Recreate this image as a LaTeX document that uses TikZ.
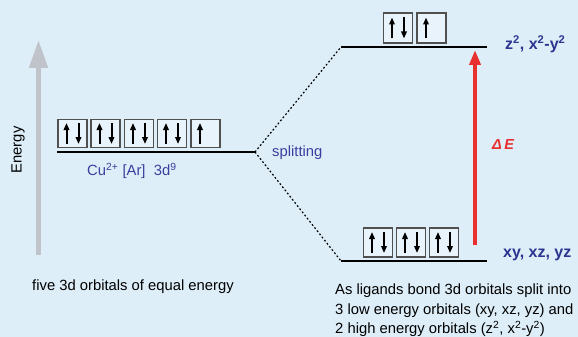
\documentclass[tikz,border=0pt]{standalone}
\usepackage{fontspec}
\setmainfont{Liberation Sans}
\usepackage{xcolor}
\usepackage{tikz}
\usetikzlibrary{arrows.meta,positioning}

\definecolor{bgblue}{RGB}{221,238,248}
\definecolor{boxfill}{RGB}{232,243,251}
\definecolor{boxline}{RGB}{80,80,80}
\definecolor{txtblue}{RGB}{58,63,160}
\definecolor{lblblue}{RGB}{43,53,144}
\definecolor{gapred}{RGB}{232,48,47}
\definecolor{axisgray}{RGB}{192,196,202}

\begin{document}
\begin{tikzpicture}[
    x=1pt, y=-1pt,
    orbital/.style={rectangle, draw=boxline, line width=1.2pt, fill=boxfill, minimum width=29pt, minimum height=28pt, inner sep=0pt},
    level/.style={line width=1.2pt},
    split/.style={dash pattern=on 1.8pt off 2.2pt, line width=1.2pt},
    spin/.style={-{Triangle[length=7pt,width=5.5pt]}, line width=2pt},
    energy/.style={-{Triangle[length=28pt,width=18pt]}, line width=5pt, draw=axisgray},
    gap/.style={-{Triangle[length=15pt,width=11pt]}, line width=4.7pt, draw=gapred},
    txt/.style={font={\fontsize{14.8}{19.5}\selectfont}, inner sep=0pt},
    lbl/.style={font={\fontsize{16}{18}\selectfont\bfseries}, text=lblblue, inner sep=0pt}
]
\useasboundingbox (0,0) rectangle (578,337);
\fill[bgblue] (0,0) rectangle (578,337);

% Energy axis
\coordinate (ebot) at (38.5,255);
\coordinate (etop) at (38.5,40);
\draw[energy] (ebot) -- (etop);
\node[txt, rotate=90] (energylbl) at (18,150) {Energy};

% Free ion: five d orbitals
\coordinate (freeL) at (57,152);
\coordinate (freeR) at (255,152);
\draw[level] (freeL) -- (freeR);
\foreach \i/\x in {1/72.5, 2/105.5, 3/139, 4/172, 5/205.5}
    \node[orbital] (l\i) at (\x,133.5) {};
\foreach \i in {1,...,4} {
    \draw[spin] ([xshift=-6pt,yshift=-10.5pt]l\i.center) -- ++(0pt,21pt);
    \draw[spin] ([xshift=6pt,yshift=10.5pt]l\i.center) -- ++(0pt,-21pt);
}
\draw[spin] ([xshift=-5.5pt,yshift=-10.5pt]l5.center) -- ++(0pt,21pt);
\node[txt, text=txtblue, anchor=west] (ion) at (87,171) {Cu\textsuperscript{2+} [Ar]\ \ 3d\textsuperscript{9}};

% Split levels
\coordinate (upL) at (341,47);
\coordinate (upR) at (487,47);
\coordinate (loL) at (341,261);
\coordinate (loR) at (487,261);
\draw[level] (upL) -- (upR);
\draw[level] (loL) -- (loR);
\draw[split] (freeR) -- (upL);
\draw[split] (freeR) -- (loL);
\node[txt, text=txtblue, anchor=west] (splitlbl) at (272,153) {splitting};

% e_g set
\foreach \i/\x in {1/398, 2/431.5}
    \node[orbital, minimum height=30pt] (u\i) at (\x,28) {};
\draw[spin] ([xshift=-6pt,yshift=-10.5pt]u1.center) -- ++(0pt,21pt);
\draw[spin] ([xshift=6pt,yshift=10.5pt]u1.center) -- ++(0pt,-21pt);
\draw[spin] ([xshift=-5.5pt,yshift=-10.5pt]u2.center) -- ++(0pt,21pt);
\node[lbl, anchor=west] (eglbl) at (505,44) {z\textsuperscript{2}, x\textsuperscript{2}-y\textsuperscript{2}};

% t_2g set
\foreach \i/\x in {1/378, 2/411, 3/444} {
    \node[orbital, minimum height=29pt] (d\i) at (\x,242.5) {};
    \draw[spin] ([xshift=-6pt,yshift=-10.5pt]d\i.center) -- ++(0pt,21pt);
    \draw[spin] ([xshift=6pt,yshift=10.5pt]d\i.center) -- ++(0pt,-21pt);
}
\node[lbl, anchor=west] (t2glbl) at (503,255) {xy, xz, yz};

% Splitting energy
\coordinate (gapbot) at (475,245);
\coordinate (gaptop) at (475,50);
\draw[gap] (gapbot) -- (gaptop);
\node[txt, text=gapred, font={\fontsize{14.5}{16}\selectfont\bfseries\itshape}, anchor=west] (gaplbl) at (492,145) {Δ\,E};

% Captions
\node[txt, anchor=west] (leftcap) at (32,287) {five 3d orbitals of equal energy};
\node[txt, anchor=north west, align=left] (rightcap) at (335,284) {As ligands bond 3d orbitals split into\\3 low energy orbitals (xy, xz, yz) and\\2 high energy orbitals (z\textsuperscript{2}, x\textsuperscript{2}-y\textsuperscript{2})};

\end{tikzpicture}
\end{document}
